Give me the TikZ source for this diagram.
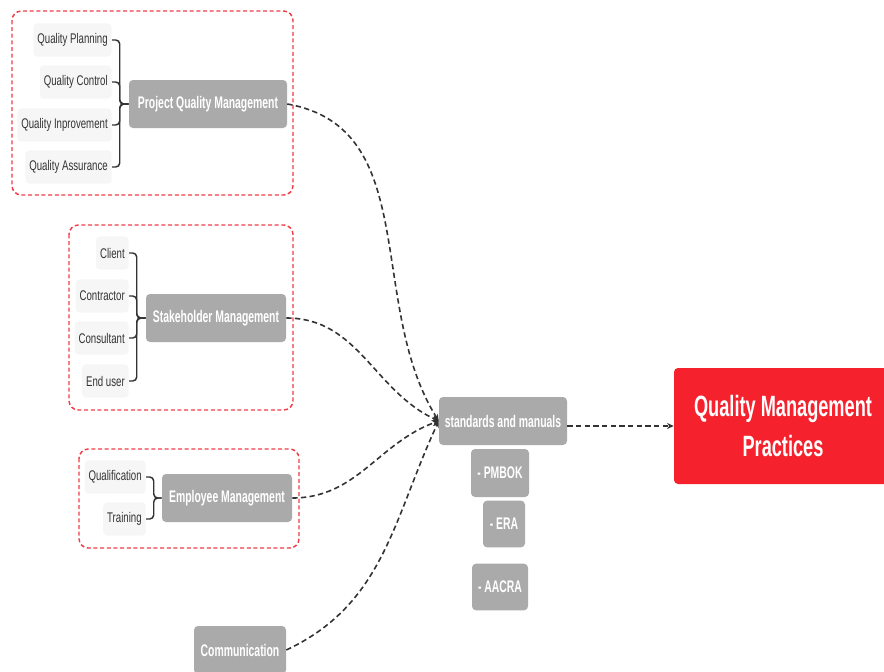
\documentclass[tikz,border=0pt]{standalone}
\usepackage{fontspec}
\newfontfamily\leaffont[FakeStretch=0.69]{Liberation Sans}
\newfontfamily\topicfont[FakeStretch=0.62]{Liberation Sans}
\usepackage{xcolor}
\usepackage{tikz}
\usetikzlibrary{positioning, calc, arrows.meta}
\definecolor{qmRed}{RGB}{245, 34, 45}
\definecolor{qmFrame}{RGB}{240, 60, 70}
\definecolor{qmGray}{RGB}{170, 170, 170}
\definecolor{qmLeaf}{RGB}{246, 246, 246}
\definecolor{qmDark}{RGB}{51, 51, 51}
\tikzset{
    base/.style={
        align=center
    },
    topic/.style={
        base,
        rectangle,
        rounded corners=3pt,
        fill=qmGray,
        text=white,
        font=\topicfont\bfseries\fontsize{12.6}{14}\selectfont,
        minimum height=36pt,
        inner xsep=2pt
    },
    leaf/.style={
        base,
        rectangle,
        rounded corners=3pt,
        fill=qmLeaf,
        text=qmDark,
        font=\leaffont\fontsize{10.5}{12}\selectfont,
        minimum height=25pt,
        inner xsep=3pt,
        anchor=east
    },
    goal/.style={
        base,
        rectangle,
        rounded corners=3pt,
        fill=qmRed,
        text=white,
        font=\topicfont\bfseries\fontsize{22}{30}\selectfont,
        minimum width=163.5pt,
        minimum height=87pt
    },
    frame/.style={
        draw=qmFrame,
        line width=1.1pt,
        dash pattern=on 3pt off 2pt,
        rounded corners=7pt
    },
    brace/.style={
        draw=qmDark,
        line width=1.1pt,
        rounded corners=3pt
    },
    flow/.style={
        draw=qmDark,
        line width=1.2pt,
        dash pattern=on 4pt off 2.5pt,
        -{Stealth[length=5pt, width=4.5pt]}
    }
}

\begin{document}
\begin{tikzpicture}[x=0.75pt, y=-0.75pt]
    \useasboundingbox (0,0) rectangle (884,671);

    % Project Quality Management
    \draw[frame] (12,11) rectangle (293,195);
    \node[topic, minimum width=118.5pt] (pqm) at (208,104) {Project Quality Management};
    \coordinate (pqmJ) at ($(pqm.west)+(-9,0)$);
    \foreach \name/\txt/\y in {qp/Quality Planning/40, qc/Quality Control/82,
                               qi/Quality Inprovement/125, qa/Quality Assurance/167} {
        \node[leaf] (\name) at (112,\y) {\txt};
        \draw[brace] (\name.east) -| (pqmJ) -- (pqm.west);
    }

    % Stakeholder Management
    \draw[frame] (69,225) rectangle (293,410);
    \node[topic, minimum width=105pt] (sm) at (216,318) {Stakeholder Management};
    \coordinate (smJ) at ($(sm.west)+(-9,0)$);
    \foreach \name/\txt/\y in {cl/Client/253, ct/Contractor/296,
                               cs/Consultant/338, eu/End user/381} {
        \node[leaf] (\name) at (129,\y) {\txt};
        \draw[brace] (\name.east) -| (smJ) -- (sm.west);
    }

    % Employee Management
    \draw[frame] (79,449) rectangle (299,548);
    \node[topic, minimum width=97.5pt] (em) at (227,498) {Employee Management};
    \coordinate (emJ) at ($(em.west)+(-8,0)$);
    \foreach \name/\txt/\y in {ql/Qualification/477, tr/Training/519} {
        \node[leaf] (\name) at (146,\y) {\txt};
        \draw[brace] (\name.east) -| (emJ) -- (em.west);
    }

    % Communication
    \node[topic, minimum width=69pt] (comm) at (240,650) {Communication};

    % Standards
    \node[topic, minimum width=96pt] (std) at (503,421) {standards and manuals};
    \node[topic, minimum width=43.5pt] (pmbok) at (500,473) {- PMBOK};
    \node[topic, minimum width=31.5pt, minimum height=35pt] (era) at (504,524) {- ERA};
    \node[topic, minimum width=42pt, minimum height=35pt] (aacra) at (500,587) {- AACRA};

    % Goal
    \node[goal] (qmp) at (783,426) {Quality Management\\Practices};

    % Connectors
    \draw[flow] (pqm.east) to[out=-10, in=122] (std.west);
    \draw[flow] (sm.east) to[out=0, in=155] (std.west);
    \draw[flow] (em.east) to[out=0, in=200] (std.west);
    \draw[flow] (comm.east) to[out=25, in=245] (std.west);
    \draw[flow] (std.east |- qmp.west) -- (qmp.west);

\end{tikzpicture}
\end{document}
